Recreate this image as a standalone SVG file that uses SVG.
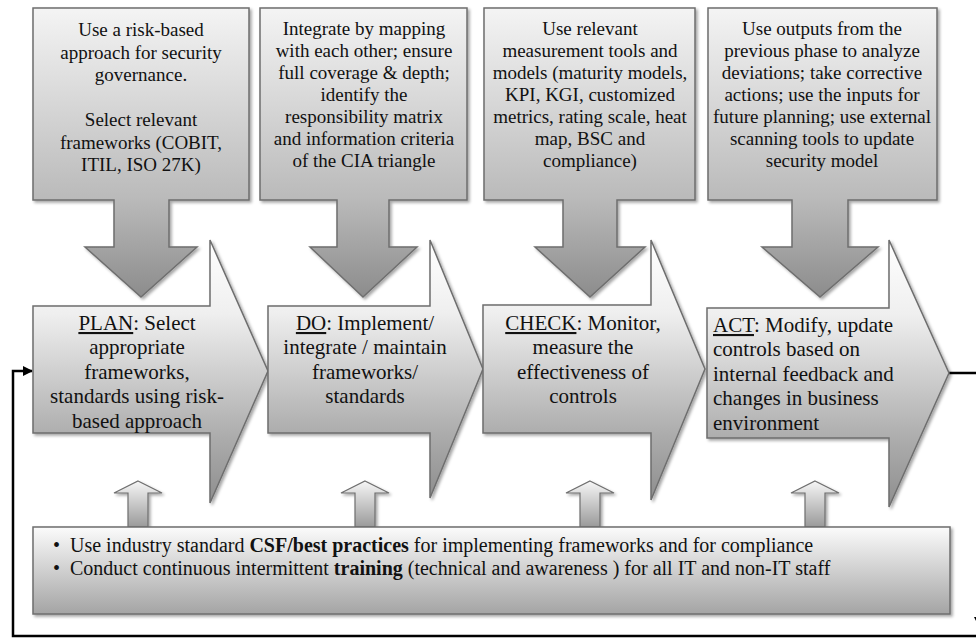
<svg xmlns="http://www.w3.org/2000/svg" width="976" height="639" viewBox="0 0 976 639">
<defs>
<linearGradient id="gCall" x1="0" y1="0" x2="0" y2="1">
<stop offset="0" stop-color="#f4f4f4"/>
<stop offset="0.66" stop-color="#bababa"/>
<stop offset="1" stop-color="#8c8c8c"/>
</linearGradient>
<linearGradient id="gMain" x1="0" y1="0" x2="0" y2="1">
<stop offset="0" stop-color="#ffffff"/>
<stop offset="0.28" stop-color="#efefef"/>
<stop offset="0.75" stop-color="#acacac"/>
<stop offset="1" stop-color="#8e8e8e"/>
</linearGradient>
<linearGradient id="gBox" x1="0" y1="0" x2="0" y2="1">
<stop offset="0" stop-color="#fbfbfb"/>
<stop offset="1" stop-color="#a4a4a4"/>
</linearGradient>
<linearGradient id="gUp" x1="0" y1="0" x2="0" y2="1">
<stop offset="0" stop-color="#f6f6f6"/>
<stop offset="1" stop-color="#9a9a9a"/>
</linearGradient>
<filter id="sh" x="-5%" y="-5%" width="115%" height="115%">
<feDropShadow dx="2" dy="2" stdDeviation="1.5" flood-color="#000" flood-opacity="0.35"/>
</filter>
<marker id="ah" markerWidth="10" markerHeight="10" refX="9" refY="5" orient="auto" markerUnits="userSpaceOnUse">
<path d="M0,0 L10,5 L0,10 Z" fill="#000"/>
</marker>
<clipPath id="cPlan"><path d="M33,306 H210 V240 L268,371 L210,503 V433 H33 Z"/></clipPath>
</defs>
<style>
.call{fill:url(#gCall);stroke:#6e6e6e;stroke-width:1.5;filter:url(#sh)}
.main{fill:url(#gMain);stroke:#6e6e6e;stroke-width:1.5;filter:url(#sh)}
.box{fill:url(#gBox);stroke:#6e6e6e;stroke-width:1.5;filter:url(#sh)}
.up{fill:url(#gUp);stroke:#6e6e6e;stroke-width:1.2;filter:url(#sh)}
text{font-family:"Times New Roman",Times,"Liberation Serif",Tinos,"Noto Serif","DejaVu Serif",FreeSerif,serif;fill:#111}
.ct{font-size:19px;text-anchor:middle}
.mt{font-size:21px}
.bt{font-size:20px}
.conn{fill:none;stroke:#000;stroke-width:2.5}
</style>
<rect width="976" height="639" fill="#fff"/>

<g id="connectors">
<path class="conn" d="M949,373 H979 V626" marker-end="url(#ah)"/>
<path class="conn" d="M979,636 H13 V371 H32" marker-end="url(#ah)"/>
</g>

<g id="callout-plan">
<path class="call" d="M33,8 H249 V200 H169 V247 H197 L141,297 L85,247 H114 V200 H33 Z"/>
<text class="ct"><tspan x="141" y="36">Use a risk-based</tspan><tspan x="141" y="58.5">approach for security</tspan><tspan x="141" y="81">governance.</tspan><tspan x="141" y="126">Select relevant</tspan><tspan x="141" y="148.5">frameworks (COBIT,</tspan><tspan x="141" y="171">ITIL, ISO 27K)</tspan></text>
</g>
<g id="callout-do">
<path class="call" d="M260,8 H467 V200 H389 V247 H417 L363,297 L310,247 H337 V200 H260 Z"/>
<text class="ct"><tspan x="364" y="35">Integrate by mapping</tspan><tspan x="364" y="57">with each other; ensure</tspan><tspan x="364" y="79">full coverage &amp; depth;</tspan><tspan x="364" y="101">identify the</tspan><tspan x="364" y="123">responsibility matrix</tspan><tspan x="364" y="145">and information criteria</tspan><tspan x="364" y="167">of the CIA triangle</tspan></text>
</g>
<g id="callout-check">
<path class="call" d="M484,8 H695 V200 H617 V247 H645 L590,297 L535,247 H563 V200 H484 Z"/>
<text class="ct"><tspan x="590" y="35">Use relevant</tspan><tspan x="590" y="57">measurement tools and</tspan><tspan x="590" y="79">models (maturity models,</tspan><tspan x="590" y="101">KPI, KGI, customized</tspan><tspan x="590" y="123">metrics, rating scale, heat</tspan><tspan x="590" y="145">map, BSC and</tspan><tspan x="590" y="167">compliance)</tspan></text>
</g>
<g id="callout-act">
<path class="call" d="M708,8 H937 V200 H848 V247 H878 L820,297 L762,247 H792 V200 H708 Z"/>
<text class="ct"><tspan x="822" y="35">Use outputs from the</tspan><tspan x="822" y="57">previous phase to analyze</tspan><tspan x="822" y="79">deviations; take corrective</tspan><tspan x="822" y="101">actions; use the inputs for</tspan><tspan x="822" y="123">future planning; use external</tspan><tspan x="822" y="145">scanning tools to update</tspan><tspan x="822" y="167">security model</tspan></text>
</g>

<g id="plan">
<path class="main" d="M33,306 H210 V240 L268,371 L210,503 V433 H33 Z"/>
<text class="mt" text-anchor="middle" clip-path="url(#cPlan)"><tspan x="137" y="330"><tspan text-decoration="underline">PLAN</tspan>: Select</tspan><tspan x="137" y="354">appropriate</tspan><tspan x="137" y="378.5">frameworks,</tspan><tspan x="137" y="403">standards using risk-</tspan><tspan x="137" y="428">based approach</tspan></text>
</g>
<g id="do">
<path class="main" d="M268,306 H430 V240 L483,369 L430,498 V433 H268 Z"/>
<text class="mt" text-anchor="middle"><tspan x="365" y="330"><tspan text-decoration="underline">DO</tspan>: Implement/</tspan><tspan x="365" y="354">integrate / maintain</tspan><tspan x="365" y="379">frameworks/</tspan><tspan x="365" y="403">standards</tspan></text>
</g>
<g id="check">
<path class="main" d="M483,305 H651 V240 L705,369 L651,500 V433 H483 Z"/>
<text class="mt" text-anchor="middle"><tspan x="583" y="330"><tspan text-decoration="underline">CHECK</tspan>: Monitor,</tspan><tspan x="583" y="354">measure the</tspan><tspan x="583" y="379">effectiveness of</tspan><tspan x="583" y="403">controls</tspan></text>
</g>
<g id="act">
<path class="main" d="M707,308 H889 V240 L949,373 L889,507 V438 H707 Z"/>
<text class="mt"><tspan x="713" y="332"><tspan text-decoration="underline">ACT</tspan>: Modify, update</tspan><tspan x="713" y="356">controls based on</tspan><tspan x="713" y="380.5">internal feedback and</tspan><tspan x="713" y="405">changes in business</tspan><tspan x="713" y="430">environment</tspan></text>
</g>

<g id="up-arrows">
<path class="up" d="M138,481 L162,493 H148 V527 H128 V493 H114 Z"/>
<path class="up" d="M365,481 L389,493 H375 V527 H355 V493 H341 Z"/>
<path class="up" d="M590,481 L614,493 H600 V527 H580 V493 H566 Z"/>
<path class="up" d="M815,481 L839,493 H825 V527 H805 V493 H791 Z"/>
</g>

<g id="practices">
<rect class="box" x="33" y="527" width="917" height="87"/>
<text class="bt" x="53" y="552">•</text>
<text class="bt" x="70" y="552">Use industry standard <tspan font-weight="bold">CSF/best practices</tspan> for implementing frameworks and for compliance</text>
<text class="bt" x="53" y="575">•</text>
<text class="bt" x="70" y="575">Conduct continuous intermittent <tspan font-weight="bold">training</tspan> (technical and awareness ) for all IT and non-IT staff</text>
</g>
</svg>
